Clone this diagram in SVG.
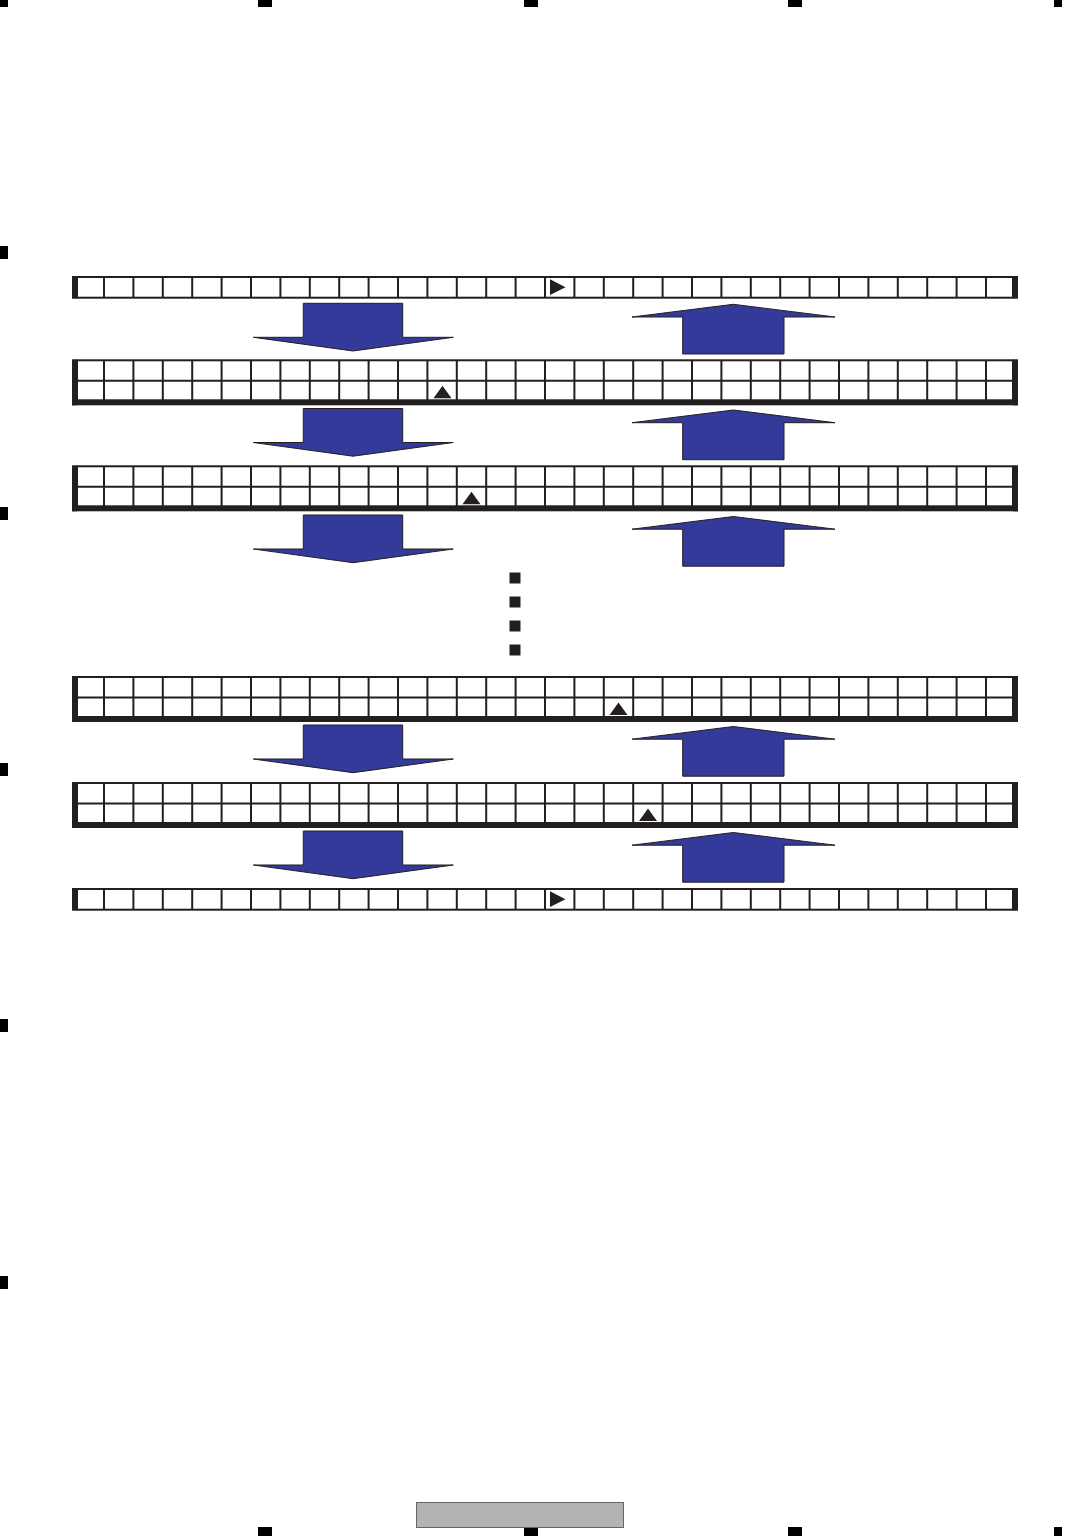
<svg xmlns="http://www.w3.org/2000/svg" xmlns:xlink="http://www.w3.org/1999/xlink" width="1065" height="1536" viewBox="0 0 1065 1536">
<style>
.grid{fill:none;stroke:#231f20;stroke-width:2}
.bar{fill:#231f20}
.mark{fill:#000}
.arrow{fill:#333a99;stroke:#231f20;stroke-width:1}
.tri{fill:#231f20}
</style>
<defs>
<path id="vlines" d="M104 0V1M133.4 0V1M162.8 0V1M192.2 0V1M221.6 0V1M251 0V1M280.4 0V1M309.8 0V1M339.2 0V1M368.6 0V1M398 0V1M427.4 0V1M456.8 0V1M486.2 0V1M515.6 0V1M545 0V1M574.4 0V1M603.8 0V1M633.2 0V1M662.6 0V1M692 0V1M721.4 0V1M750.8 0V1M780.2 0V1M809.6 0V1M839 0V1M868.4 0V1M897.8 0V1M927.2 0V1M956.6 0V1M986 0V1"/>
<g id="single">
<rect class="grid" x="77" y="1" width="936" height="20.7"/>
<use xlink:href="#vlines" class="grid" transform="translate(0,1) scale(1,20.7)" style="stroke-width:2;vector-effect:non-scaling-stroke"/>
<rect class="bar" x="72" y="0" width="5" height="22.7"/>
<rect class="bar" x="1013" y="0" width="5" height="22.7"/>
</g>
<g id="double">
<rect class="grid" x="77" y="1" width="936" height="40"/>
<line class="grid" x1="77" y1="21.4" x2="1013" y2="21.4"/>
<use xlink:href="#vlines" class="grid" transform="translate(0,1) scale(1,40)" style="stroke-width:2;vector-effect:non-scaling-stroke"/>
<rect class="bar" x="72" y="0" width="5" height="46"/>
<rect class="bar" x="1013" y="0" width="5" height="46"/>
<rect class="bar" x="72" y="41" width="946" height="5"/>
</g>
<path id="down" class="arrow" d="M303.3 0H402.7V34H453.3L353 47.7L253.3 34H303.3Z"/>
<path id="up" class="arrow" d="M733.3 0L835 12.7H784V49.7H682.7V12.7H632Z"/>
</defs>

<g id="corner-marks">
<rect class="mark" x="0" y="0" width="8" height="7"/>
<rect class="mark" x="258" y="0" width="14" height="7"/>
<rect class="mark" x="524" y="0" width="14" height="7"/>
<rect class="mark" x="788" y="0" width="14" height="7"/>
<rect class="mark" x="1054" y="0" width="8" height="7"/>
<rect class="mark" x="0" y="246" width="8" height="13"/>
<rect class="mark" x="0" y="507" width="8" height="13"/>
<rect class="mark" x="0" y="763" width="8" height="13"/>
<rect class="mark" x="0" y="1019" width="8" height="13"/>
<rect class="mark" x="0" y="1276" width="8" height="13"/>
<rect class="mark" x="258" y="1527" width="14" height="9"/>
<rect class="mark" x="524" y="1527" width="14" height="9"/>
<rect class="mark" x="788" y="1527" width="14" height="9"/>
<rect class="mark" x="1054" y="1527" width="8" height="9"/>
</g>

<g id="row1"><use xlink:href="#single" transform="translate(0,276)"/><path class="tri" d="M550 279.3L565.5 287.2L550 295Z"/></g>
<g id="row2"><use xlink:href="#double" transform="translate(0,359.3)"/><path class="tri" d="M433.5 398.3L442.5 385.7L451.5 398.3Z"/></g>
<g id="row3"><use xlink:href="#double" transform="translate(0,465.3)"/><path class="tri" d="M462.5 504.3L471.5 491.7L480.5 504.3Z"/></g>
<g id="row4"><use xlink:href="#double" transform="translate(0,676)"/><path class="tri" d="M609.5 715L618.5 702.4L627.5 715Z"/></g>
<g id="row5"><use xlink:href="#double" transform="translate(0,782)"/><path class="tri" d="M639 821L648 808.4L657 821Z"/></g>
<g id="row6"><use xlink:href="#single" transform="translate(0,888)"/><path class="tri" d="M550 891.3L565.5 899.2L550 907Z"/></g>

<g id="dots">
<rect class="bar" x="509.5" y="572.5" width="11" height="11"/>
<rect class="bar" x="509.5" y="596.5" width="11" height="11"/>
<rect class="bar" x="509.5" y="620.5" width="11" height="11"/>
<rect class="bar" x="509.5" y="644.5" width="11" height="11"/>
</g>

<g id="connectors">
<use xlink:href="#down" transform="translate(0,303.3)"/>
<use xlink:href="#up" transform="translate(0,304.3)"/>
<use xlink:href="#down" transform="translate(0,408.5)"/>
<use xlink:href="#up" transform="translate(0,410)"/>
<use xlink:href="#down" transform="translate(0,515)"/>
<use xlink:href="#up" transform="translate(0,516.5)"/>
<use xlink:href="#down" transform="translate(0,725)"/>
<use xlink:href="#up" transform="translate(0,726.5)"/>
<use xlink:href="#down" transform="translate(0,831)"/>
<use xlink:href="#up" transform="translate(0,832.5)"/>
</g>

<g id="footer-box">
<rect x="416.5" y="1502.5" width="207" height="25" fill="#b3b3b3" stroke="#666666" stroke-width="1"/>
</g>
</svg>
